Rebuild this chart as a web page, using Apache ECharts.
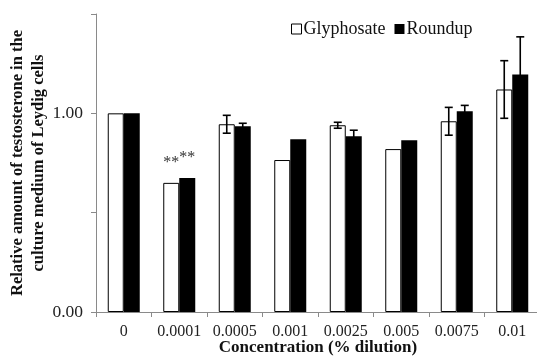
<!DOCTYPE html>
<html>
<head>
    <meta charset="utf-8" />
    <title>Testosterone - Glyphosate / Roundup</title>
    <script type="text/javascript" src="https://cdn.jsdelivr.net/npm/echarts@6/dist/echarts.min.js"></script>
    <style>
        html, body { margin: 0; padding: 0; background: #fff; }
    </style>
</head>
<body>
    <div id="main" style="width: 537px;height: 356px;"></div>
    <script type="text/javascript">
        // data
        var concentrations = ['0', '0.0001', '0.0005', '0.001', '0.0025', '0.005', '0.0075', '0.01'];
        var glyphosate = [1.00, 0.65, 0.945, 0.765, 0.94, 0.82, 0.96, 1.12];
        var glyphosateErr = [0, 0, 0.045, 0, 0.015, 0, 0.07, 0.145];
        var roundup = [1.00, 0.675, 0.935, 0.87, 0.885, 0.865, 1.01, 1.195];
        var roundupErr = [0, 0, 0.015, 0, 0.03, 0, 0.03, 0.19];
        var glyphosateMarks = ['', '**', '', '', '', '', '', ''];
        var roundupMarks = ['', '**', '', '', '', '', '', ''];

        var serif = '"Liberation Serif", "DejaVu Serif", serif';
        var BAR_W = 16;

        function errorSeries(values, errs, side) {
            var data = values.map(function (v, i) { return [i, v, errs[i]]; });
            return {
                type: 'custom',
                silent: true,
                z: 5,
                data: data,
                renderItem: function (params, api) {
                    var err = api.value(2);
                    if (!err) return null;
                    var v = api.value(1);
                    var hi = api.coord([api.value(0), v + err]);
                    var lo = api.coord([api.value(0), v - err]);
                    var x = hi[0] + side * BAR_W / 2;
                    var cap = 4;
                    var st = { stroke: '#000', lineWidth: 1.6 };
                    return {
                        type: 'group',
                        children: [
                            { type: 'line', shape: { x1: x, y1: hi[1], x2: x, y2: lo[1] }, style: st },
                            { type: 'line', shape: { x1: x - cap, y1: hi[1], x2: x + cap, y2: hi[1] }, style: st },
                            { type: 'line', shape: { x1: x - cap, y1: lo[1], x2: x + cap, y2: lo[1] }, style: st }
                        ]
                    };
                }
            };
        }

        var myChart = echarts.init(document.getElementById('main'));

        var option = {
            animation: false,
            textStyle: { fontFamily: serif },
            grid: { left: 96, top: 14, width: 444, bottom: 44, containLabel: false, outerBoundsMode: 'none' },
            legend: {
                left: 286, top: 15,
                itemWidth: 10, itemHeight: 10, itemGap: 9,
                textStyle: { fontFamily: serif, fontSize: 18, color: '#111', padding: [0, 0, 0, -3] },
                data: [
                    { name: 'Glyphosate', icon: 'rect', itemStyle: { color: '#fff', borderColor: '#000', borderWidth: 1 } },
                    { name: 'Roundup', icon: 'rect', itemStyle: { color: '#000' } }
                ]
            },
            xAxis: {
                type: 'category',
                data: concentrations,
                name: 'Concentration (% dilution)',
                nameLocation: 'middle',
                nameGap: 27,
                nameMoveOverlap: false,
                nameTextStyle: { fontFamily: serif, fontSize: 17, fontWeight: 'bold', color: '#111' },
                axisLine: { lineStyle: { color: '#8a8a8a', width: 1 } },
                axisTick: { show: true, length: 5, lineStyle: { color: '#8a8a8a' } },
                axisLabel: { fontFamily: serif, fontSize: 16, color: '#222', margin: 12, interval: 0 }
            },
            yAxis: {
                type: 'value',
                min: 0, max: 1.5, interval: 0.5,
                name: 'Relative amount of testosterone in the\nculture medium of Leydig cells',
                nameLocation: 'middle',
                nameRotate: 90,
                nameGap: 47,
                nameMoveOverlap: false,
                nameTextStyle: { fontFamily: serif, fontSize: 16.5, fontWeight: 'bold', color: '#111', lineHeight: 21 },
                splitLine: { show: false },
                axisLine: { show: true, lineStyle: { color: '#8a8a8a', width: 1 } },
                axisTick: { show: true, length: 5, lineStyle: { color: '#8a8a8a' } },
                axisLabel: {
                    fontFamily: serif, fontSize: 17.5, color: '#222', margin: 13,
                    formatter: function (v) { return (v === 0 || v === 1) ? v.toFixed(2) : ''; }
                }
            },
            series: [
                {
                    name: 'Glyphosate',
                    type: 'bar',
                    barWidth: BAR_W,
                    barGap: 0,
                    data: glyphosate,
                    itemStyle: { color: '#fff', borderColor: '#000', borderWidth: 1 },
                    label: {
                        show: true, position: 'top', distance: 12,
                        fontFamily: serif, fontSize: 16, color: '#333',
                        formatter: function (p) { return glyphosateMarks[p.dataIndex]; }
                    }
                },
                {
                    name: 'Roundup',
                    type: 'bar',
                    barWidth: BAR_W,
                    barGap: 0,
                    data: roundup,
                    itemStyle: { color: '#000' },
                    label: {
                        show: true, position: 'top', distance: 12,
                        fontFamily: serif, fontSize: 16, color: '#333',
                        formatter: function (p) { return roundupMarks[p.dataIndex]; }
                    }
                },
                errorSeries(glyphosate, glyphosateErr, -1),
                errorSeries(roundup, roundupErr, 1)
            ]
        };

        myChart.setOption(option);
    </script>
</body>
</html>
